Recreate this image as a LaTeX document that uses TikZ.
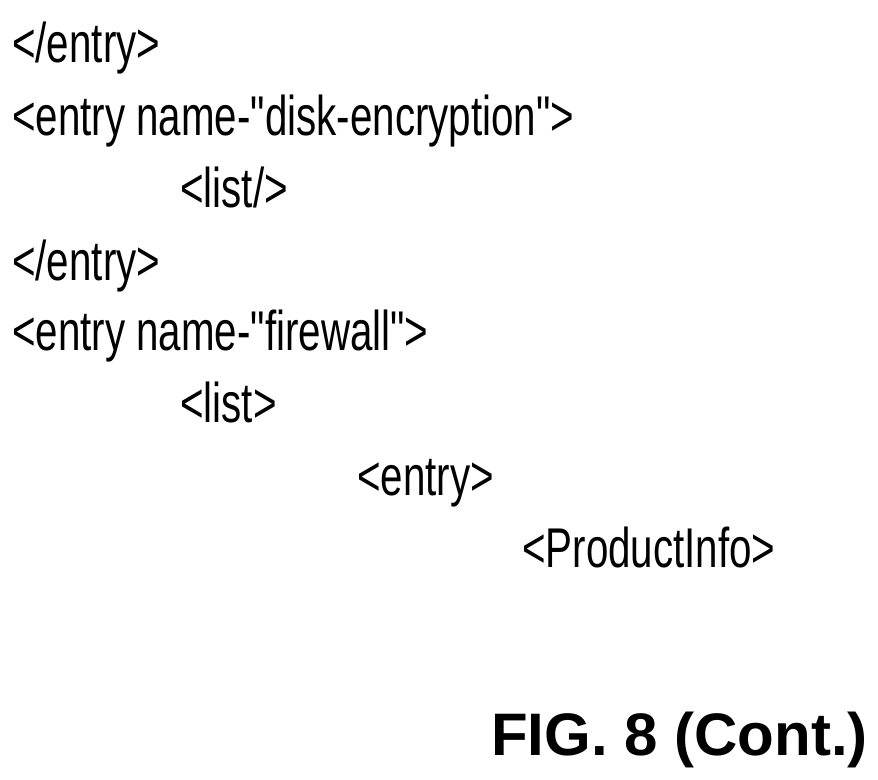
\documentclass[tikz,border=0pt]{standalone}
\usepackage{fontspec}
\setmainfont{Liberation Sans}
\newfontfamily\condfont[FakeStretch=0.72]{Liberation Sans}
\begin{document}
\begin{tikzpicture}[x=1pt,y=-1pt,
  code/.style={anchor=base west,inner sep=0pt,font=\condfont\fontsize{56}{56}\selectfont},
  fig/.style={anchor=base east,inner sep=0pt,font=\bfseries\fontsize{60}{60}\selectfont}]
\useasboundingbox (0,0) rectangle (878,779);
\node[code] (l1) at (12,62) {</entry>};
\node[code] (l2) at (12,135) {<entry name-"disk-encryption">};
\node[code] (l3) at (180,207) {<list/>};
\node[code] (l4) at (12,280) {</entry>};
\node[code] (l5) at (12,350) {<entry name-"firewall">};
\node[code] (l6) at (180,422) {<list>};
\node[code] (l7) at (357,495) {<entry>};
\node[code] (l8) at (522,567) {<ProductInfo>};
\node[fig] (f) at (868,755) {FIG. 8 (Cont.)};
\end{tikzpicture}
\end{document}
